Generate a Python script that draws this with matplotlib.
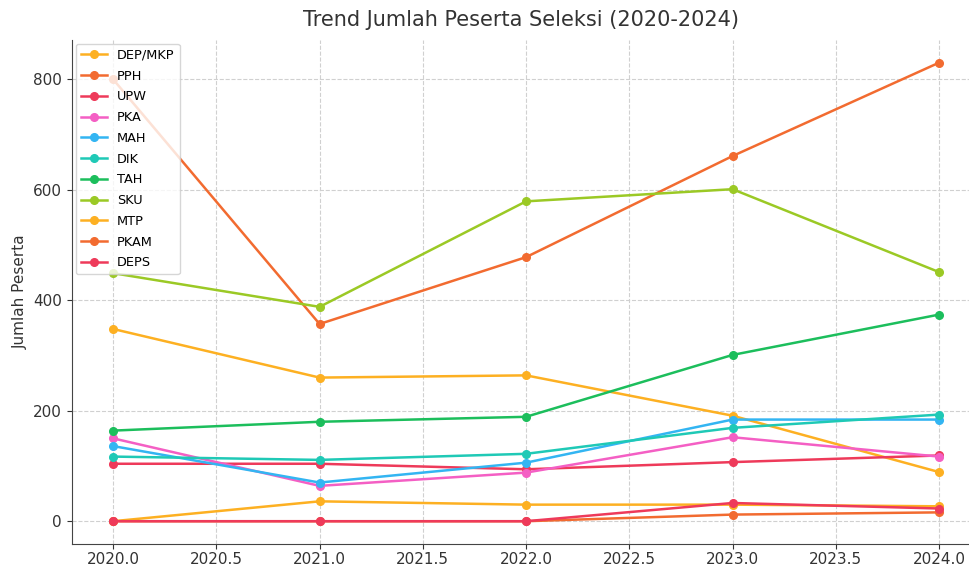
import matplotlib
matplotlib.use('Agg')
import matplotlib.pyplot as plt

years = [2020, 2021, 2022, 2023, 2024]

names = ['DEP/MKP', 'PPH', 'UPW', 'PKA', 'MAH', 'DIK', 'TAH', 'SKU', 'MTP', 'PKAM', 'DEPS']
dep_mkp = [348, 260, 264, 191, 89]
pph = [800, 357, 478, 661, 830]
upw = [104, 104, 94, 107, 119]
pka = [150, 64, 88, 152, 117]
mah = [136, 70, 106, 184, 184]
dik = [117, 111, 122, 169, 193]
tah = [164, 180, 189, 301, 374]
sku = [449, 388, 579, 601, 451]
mtp = [0, 36, 30, 30, 27]
pkam = [0, 0, 0, 12, 16]
deps = [0, 0, 0, 33, 23]

colors = ['#FDB022', '#F26B30', '#EE3A5A', '#F45FC4', '#33B5F2',
          '#1FC9B6', '#1CBE5C', '#9BC925', '#FDB022', '#F26B30', '#EE3A5A']

series = [dep_mkp, pph, upw, pka, mah, dik, tah, sku, mtp, pkam, deps]

fig = plt.figure(figsize=(9.7, 5.68), dpi=100)
ax = fig.add_axes([0.074, 0.042, 0.926, 0.888])

for name, vals, c in zip(names, series, colors):
    ax.plot(years, vals, marker='o', markersize=5.5, linewidth=1.8, color=c, label=name)

ax.set_xlim(2019.8, 2024.15)
ax.set_xticks([2020.0, 2020.5, 2021.0, 2021.5, 2022.0, 2022.5, 2023.0, 2023.5, 2024.0])
ax.set_xticklabels(['2020.0', '2020.5', '2021.0', '2021.5', '2022.0', '2022.5', '2023.0', '2023.5', '2024.0'])
ax.set_yticks([0, 200, 400, 600, 800])
ax.tick_params(labelsize=11, colors='#333333')
ax.tick_params(axis='x', pad=2)
ax.grid(True, linestyle='--', color='#d0d0d0', linewidth=0.8)
ax.spines['top'].set_visible(False)
ax.spines['right'].set_visible(False)
for s in ['left', 'bottom']:
    ax.spines[s].set_color('#444444')
ax.set_ylabel('Jumlah Peserta', fontsize=11, color='#333333')
ax.set_title('Trend Jumlah Peserta Seleksi (2020-2024)', fontsize=15, color='#333333', pad=10)
ax.legend(loc='upper left', fontsize=9.3, frameon=True, borderaxespad=0.3, labelspacing=0.6)

fig.savefig('out.png', dpi=100)
